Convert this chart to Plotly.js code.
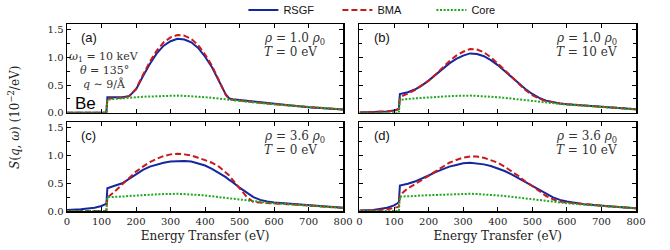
<!DOCTYPE html>
<html>
<head>
<meta charset="utf-8">
<script src="https://cdn.plot.ly/plotly-3.0.1.min.js"></script>
<style>html,body{margin:0;padding:0;background:#fff;}#chart{width:670px;height:250px;}</style>
</head>
<body>
<div id="chart"></div>
<script>
// Energy transfer grid (eV)
const energy = [0, 40, 80, 100, 110, 114, 117, 125, 140, 160, 180, 200, 220, 240, 260, 280, 300, 320, 340, 360, 380, 400, 420, 440, 460, 470, 480, 500, 520, 540, 560, 580, 600, 650, 700, 750, 800];

// Panel (a): rho = 1.0 rho0, T = 0 eV
const rsgf_a = [0, 0, 0, 0, 0, 0, 0.28, 0.28, 0.275, 0.28, 0.30, 0.42, 0.66, 0.88, 1.07, 1.21, 1.29, 1.335, 1.32, 1.27, 1.17, 1.01, 0.82, 0.58, 0.33, 0.26, 0.245, 0.23, 0.215, 0.20, 0.185, 0.17, 0.16, 0.13, 0.10, 0.08, 0.06];
const bma_a  = [0, 0, 0, 0, 0, 0, 0.26, 0.26, 0.26, 0.27, 0.30, 0.43, 0.68, 0.92, 1.12, 1.27, 1.36, 1.40, 1.39, 1.33, 1.22, 1.05, 0.85, 0.60, 0.32, 0.25, 0.235, 0.22, 0.205, 0.19, 0.18, 0.165, 0.155, 0.13, 0.10, 0.08, 0.06];
const core_a = [0, 0, 0, 0, 0, 0, 0.24, 0.245, 0.25, 0.26, 0.27, 0.28, 0.29, 0.295, 0.30, 0.305, 0.31, 0.31, 0.305, 0.30, 0.29, 0.28, 0.27, 0.255, 0.24, 0.235, 0.23, 0.215, 0.20, 0.19, 0.175, 0.165, 0.155, 0.13, 0.10, 0.08, 0.06];

// Panel (b): rho = 1.0 rho0, T = 10 eV
const rsgf_b = [0.005, 0.01, 0.025, 0.04, 0.06, 0.07, 0.34, 0.35, 0.37, 0.42, 0.49, 0.58, 0.68, 0.79, 0.89, 0.97, 1.03, 1.07, 1.06, 1.02, 0.95, 0.86, 0.75, 0.64, 0.53, 0.48, 0.43, 0.34, 0.27, 0.22, 0.19, 0.17, 0.155, 0.13, 0.105, 0.085, 0.065];
const bma_b  = [0.005, 0.01, 0.025, 0.04, 0.06, 0.07, 0.28, 0.31, 0.35, 0.41, 0.49, 0.58, 0.69, 0.81, 0.93, 1.03, 1.10, 1.15, 1.14, 1.09, 1.00, 0.89, 0.77, 0.64, 0.52, 0.46, 0.41, 0.32, 0.255, 0.21, 0.185, 0.17, 0.155, 0.13, 0.105, 0.085, 0.065];
const core_b = [0, 0, 0, 0, 0, 0, 0.23, 0.24, 0.25, 0.26, 0.27, 0.28, 0.29, 0.295, 0.30, 0.305, 0.31, 0.31, 0.305, 0.30, 0.29, 0.28, 0.27, 0.255, 0.24, 0.235, 0.225, 0.21, 0.195, 0.185, 0.17, 0.16, 0.15, 0.125, 0.10, 0.08, 0.06];

// Panel (c): rho = 3.6 rho0, T = 0 eV
const rsgf_c = [0.02, 0.03, 0.06, 0.09, 0.12, 0.13, 0.41, 0.43, 0.46, 0.50, 0.58, 0.66, 0.74, 0.80, 0.84, 0.87, 0.89, 0.90, 0.90, 0.89, 0.86, 0.82, 0.76, 0.69, 0.61, 0.56, 0.52, 0.42, 0.33, 0.25, 0.20, 0.17, 0.155, 0.13, 0.10, 0.08, 0.06];
const bma_c  = [0, 0, 0, 0, 0, 0, 0.24, 0.28, 0.36, 0.48, 0.60, 0.71, 0.80, 0.88, 0.94, 0.99, 1.02, 1.03, 1.02, 1.00, 0.96, 0.92, 0.87, 0.80, 0.70, 0.64, 0.56, 0.42, 0.26, 0.16, 0.15, 0.14, 0.135, 0.12, 0.095, 0.075, 0.055];
const core_c = [0, 0, 0, 0, 0, 0, 0.25, 0.25, 0.255, 0.26, 0.27, 0.28, 0.29, 0.295, 0.30, 0.305, 0.31, 0.31, 0.305, 0.30, 0.29, 0.28, 0.265, 0.25, 0.235, 0.225, 0.215, 0.20, 0.185, 0.17, 0.16, 0.15, 0.14, 0.12, 0.095, 0.075, 0.055];

// Panel (d): rho = 3.6 rho0, T = 10 eV
const rsgf_d = [0.01, 0.02, 0.06, 0.10, 0.14, 0.16, 0.46, 0.47, 0.49, 0.53, 0.58, 0.64, 0.70, 0.75, 0.80, 0.83, 0.86, 0.87, 0.86, 0.84, 0.81, 0.77, 0.72, 0.66, 0.59, 0.55, 0.52, 0.44, 0.37, 0.30, 0.245, 0.20, 0.17, 0.12, 0.09, 0.07, 0.05];
const bma_d  = [0.005, 0.01, 0.03, 0.05, 0.07, 0.08, 0.27, 0.33, 0.41, 0.48, 0.56, 0.64, 0.72, 0.80, 0.87, 0.92, 0.96, 0.98, 0.98, 0.96, 0.92, 0.87, 0.80, 0.72, 0.63, 0.58, 0.53, 0.45, 0.36, 0.27, 0.21, 0.17, 0.15, 0.12, 0.09, 0.07, 0.05];
const core_d = [0, 0, 0, 0, 0, 0, 0.26, 0.26, 0.265, 0.27, 0.28, 0.285, 0.29, 0.295, 0.30, 0.305, 0.31, 0.31, 0.305, 0.30, 0.29, 0.28, 0.27, 0.255, 0.24, 0.23, 0.22, 0.205, 0.19, 0.175, 0.16, 0.15, 0.14, 0.115, 0.09, 0.07, 0.05];

const seriesNames = ['RSGF', 'BMA', 'Core'];
const panelLabels = ['(a)', '(b)', '(c)', '(d)'];
const densityLabels = ['1.0', '1.0', '3.6', '3.6'];
const tempLabels = ['0', '10', '0', '10'];
const xTicks = [0, 100, 200, 300, 400, 500, 600, 700, 800];
const yTicks = [0, 0.5, 1.0, 1.5];

const panels = [
  [rsgf_a, bma_a, core_a],
  [rsgf_b, bma_b, core_b],
  [rsgf_c, bma_c, core_c],
  [rsgf_d, bma_d, core_d]
];
const styles = [
  {color: '#1426a0', width: 2, dash: 'solid'},
  {color: '#c81a1a', width: 2, dash: '6px,3px'},
  {color: '#1fa81f', width: 2, dash: '2px,1.6px'}
];

const traces = [];
panels.forEach((set, p) => {
  const ax = p === 0 ? '' : String(p + 1);
  set.forEach((vals, s) => {
    traces.push({
      type: 'scatter', mode: 'lines',
      x: energy, y: vals,
      name: seriesNames[s],
      legendgroup: seriesNames[s],
      showlegend: p === 0,
      line: styles[s],
      xaxis: 'x' + ax, yaxis: 'y' + ax,
      hoverinfo: 'skip'
    });
  });
});

const serif = 'DejaVu Serif, serif';
const sans = 'Liberation Sans, Arial, sans-serif';

function xAxis(domain, anchor, labels) {
  const a = {
    domain: domain, anchor: anchor, range: [0, 800],
    tickvals: xTicks, ticktext: xTicks.map(String),
    ticks: 'inside', ticklen: 4, tickwidth: 1, tickcolor: '#000',
    mirror: 'ticks', showline: true, linewidth: 1.5, linecolor: '#000',
    showgrid: false, zeroline: false, showticklabels: labels,
    tickfont: {family: serif, size: 10, color: '#222'}
  };
  if (labels) a.title = {text: 'Energy Transfer (eV)', font: {family: serif, size: 12, color: '#222'}, standoff: 6};
  return a;
}
function yAxis(domain, anchor, labels) {
  return {
    domain: domain, anchor: anchor, range: [0, 1.6],
    tickvals: yTicks, ticktext: yTicks.map(v => v.toFixed(1)),
    ticks: 'inside', ticklen: 4, tickwidth: 1, tickcolor: '#000',
    minor: {dtick: 0.25, tick0: 0, ticks: 'inside', ticklen: 3, tickcolor: '#000', showgrid: false},
    mirror: 'ticks', showline: true, linewidth: 1.5, linecolor: '#000',
    showgrid: false, zeroline: false, showticklabels: labels,
    tickfont: {family: serif, size: 10, color: '#222'}
  };
}

const colL = [0, 0.4853], colR = [0.514, 1];
const rowT = [0.525, 1], rowB = [0, 0.475];

const annotations = [];
const axNames = ['', '2', '3', '4'];
panelLabels.forEach((lab, p) => {
  const xr = 'x' + axNames[p] + ' domain';
  const yr = 'y' + axNames[p] + ' domain';
  annotations.push({xref: xr, yref: yr, x: 0.045, y: 0.85, xanchor: 'left', yanchor: 'middle', text: lab, showarrow: false, font: {family: sans, size: 13, color: '#111'}});
  annotations.push({xref: xr, yref: yr, x: 0.705, y: 0.835, xanchor: 'left', yanchor: 'middle', text: '<i>ρ</i> = ' + densityLabels[p] + ' <i>ρ</i><sub>0</sub>', showarrow: false, font: {family: serif, size: 12, color: '#333'}});
  annotations.push({xref: xr, yref: yr, x: 0.705, y: 0.685, xanchor: 'left', yanchor: 'middle', text: '<i>T</i> = ' + tempLabels[p] + ' eV', showarrow: false, font: {family: serif, size: 12, color: '#333'}});
});
const infoLines = ['<i>ω</i><sub>1</sub> = 10 keV', '<i>θ</i> = 135°', '<i>q</i> ∼ 9/Å'];
const infoY = [0.625, 0.475, 0.33];
infoLines.forEach((t, i) => {
  annotations.push({xref: 'x domain', yref: 'y domain', x: 0.135, y: infoY[i], xanchor: 'center', yanchor: 'middle', text: t, showarrow: false, font: {family: serif, size: 11, color: '#333'}});
});
annotations.push({xref: 'x domain', yref: 'y domain', x: 0.022, y: 0.11, xanchor: 'left', yanchor: 'middle', text: 'Be', showarrow: false, font: {family: sans, size: 17, color: '#000'}});
annotations.push({xref: 'paper', yref: 'paper', x: -0.094, y: 0.5, xanchor: 'center', yanchor: 'middle', textangle: -90, text: '<i>S</i>(<i>q</i>, <i>ω</i>) (10<sup>−2</sup>/eV)', showarrow: false, font: {family: serif, size: 12, color: '#222'}});

const layout = {
  width: 670, height: 250,
  margin: {l: 66.7, r: 34, t: 24, b: 39, pad: 0, autoexpand: false},
  paper_bgcolor: '#fff', plot_bgcolor: '#fff',
  showlegend: true,
  legend: {orientation: 'h', x: 0.31, xanchor: 'left', y: 1.075, yanchor: 'middle', font: {family: sans, size: 11, color: '#111'}, bgcolor: 'rgba(0,0,0,0)', traceorder: 'normal', entrywidth: 49, itemwidth: 30},
  xaxis: xAxis(colL, 'y', false),
  yaxis: yAxis(rowT, 'x', true),
  xaxis2: xAxis(colR, 'y2', false),
  yaxis2: yAxis(rowT, 'x2', false),
  xaxis3: xAxis(colL, 'y3', true),
  yaxis3: yAxis(rowB, 'x3', true),
  xaxis4: xAxis(colR, 'y4', true),
  yaxis4: yAxis(rowB, 'x4', false),
  annotations: annotations
};

Plotly.newPlot('chart', traces, layout, {staticPlot: true, displayModeBar: false});
</script>
</body>
</html>
